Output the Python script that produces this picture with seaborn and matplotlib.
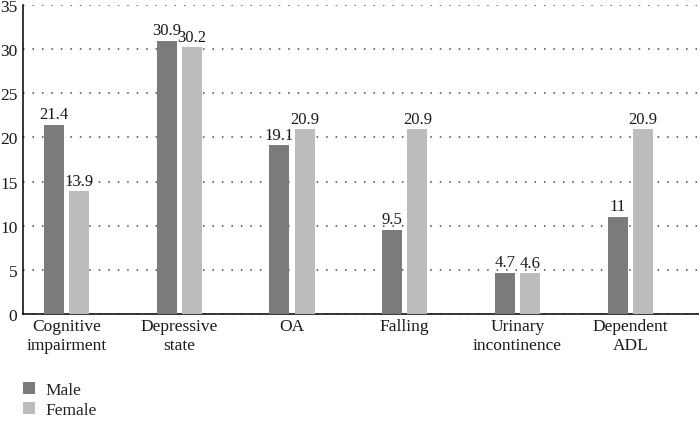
"""
Grouped bar chart: geriatric conditions by sex (%).
"""
import numpy as np
import pandas as pd
import matplotlib
matplotlib.use("Agg")
import matplotlib.pyplot as plt
import seaborn as sns

categories = ["Cognitive\nimpairment", "Depressive\nstate", "OA", "Falling",
              "Urinary\nincontinence", "Dependent\nADL"]
male = [21.4, 30.9, 19.1, 9.5, 4.7, 11]
female = [13.9, 30.2, 20.9, 20.9, 4.6, 20.9]
series = ["Male", "Female"]
colors = ["#7b7b7e", "#bcbcbc"]

df = pd.DataFrame({
    "category": categories * 2,
    "sex": ["Male"] * len(categories) + ["Female"] * len(categories),
    "value": male + female,
})

sns.set_theme(style="white")
plt.rcParams["font.family"] = ["Liberation Serif", "DejaVu Serif"]

fig = plt.figure(figsize=(6.99, 4.27), dpi=100)
ax = fig.add_axes([23 / 699, 112 / 427, 676 / 699, 309 / 427])

sns.barplot(data=df, x="category", y="value", hue="sex", hue_order=series,
            palette=colors, width=0.444, gap=0.2, ax=ax, saturation=1,
            linewidth=0, zorder=3)

for cont in ax.containers:
    ax.bar_label(cont, labels=[f"{v:g}" for v in cont.datavalues],
                 padding=2, fontsize=12, color="#1a1a1a")

ax.set_ylim(0, 35)
ax.set_yticks(range(0, 36, 5))
ax.set_xlim(-0.386, 5.61)
ax.yaxis.grid(True, linestyle=(0, (1, 5.2)), color="#444444", linewidth=1.1)
ax.set_axisbelow(True)
for s in ["top", "right"]:
    ax.spines[s].set_visible(False)
for s in ["left", "bottom"]:
    ax.spines[s].set_color("black")
    ax.spines[s].set_linewidth(1.1)
ax.tick_params(axis="both", length=0, labelsize=12.5, colors="#1a1a1a")
ax.tick_params(axis="y", pad=4)
ax.tick_params(axis="x", pad=3)
ax.set_xlabel("")
ax.set_ylabel("")

ax.legend(loc="upper left", bbox_to_anchor=(16 / 699, 1 - 376 / 427),
          bbox_transform=fig.transFigure, frameon=False, fontsize=12.5,
          handlelength=0.7, handleheight=0.7, handletextpad=0.6,
          labelspacing=0.2, borderaxespad=0)

fig.savefig("out.png", dpi=100)
